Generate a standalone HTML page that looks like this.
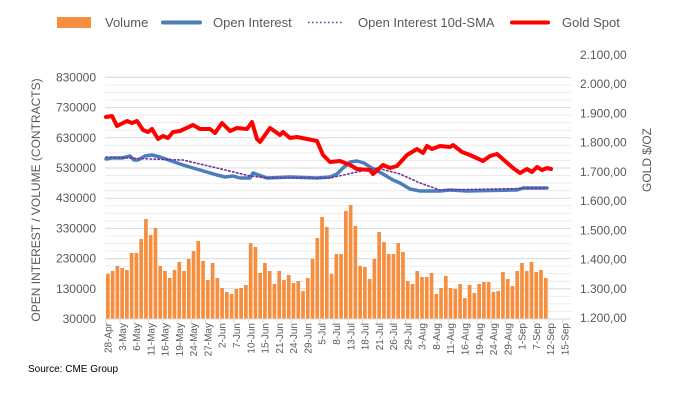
<!DOCTYPE html>
<html><head><meta charset="utf-8"><style>
body{margin:0;background:#fff;}
svg{display:block;font-family:"Liberation Sans",sans-serif;}
</style></head><body>
<svg id="s" width="678" height="400" xmlns="http://www.w3.org/2000/svg">
</svg>
<script>
const s=document.getElementById('s');let h='';
// grid
for(let i=0;i<=32;i++){const y=319-i*7.55;h+=`<line x1="105" x2="571" y1="${y}" y2="${y}" stroke="${i%4==0?'#d9d9d9':'#ececec'}" stroke-width="1"/>`;}
// left labels
for(let i=0;i<=8;i++){const y=319-i*30.2;h+=`<text x="96" y="${y+4}" font-size="12" fill="#595959" text-anchor="end">${30000+i*100000}</text>`;}
// right labels
for(let i=0;i<=9;i++){const y=318-i*29.25;const v=(1200+i*100);h+=`<text x="580" y="${y+4}" font-size="12" fill="#595959">${Math.floor(v/1000)}.${String(v%1000).padStart(3,'0')},00</text>`;}
h+=`<text transform="translate(40,200) rotate(-90)" font-size="12" fill="#595959" text-anchor="middle">OPEN INTEREST / VOLUME (CONTRACTS)</text>`;
h+=`<text transform="translate(651,160) rotate(-90)" font-size="12" fill="#595959" text-anchor="middle">GOLD $/OZ</text>`;
// bars
const b=[274,271,266,268,270,253,253,239,219,235,228,266,271,278,270,262,271,259,251,241,261,280,263,278,288,292,294,289,288,285,243,247,273,263,271,284,271,280,275,283,281,291,278,259,238,217,227,274,254,254,211,205,226,266,267,279,259,232,242,254,254,243,252,281,284,271,277,277,273,294,288,276,288,289,284,298,285,293,284,282,282,292,291,272,279,286,271,263,271,262,272,270,278];
b.forEach((t,i)=>{const x=106+i*4.76;h+=`<rect x="${x}" y="${t}" width="3.7" height="${319-t}" fill="#f58f3f"/>`;});
h+=`<line x1="105" x2="571" y1="319" y2="319" stroke="#d9d9d9"/>`;
// x labels
const L=['28-Apr','3-May','6-May','11-May','16-May','19-May','24-May','27-May','2-Jun','7-Jun','10-Jun','15-Jun','21-Jun','24-Jun','29-Jun','5-Jul','8-Jul','13-Jul','18-Jul','21-Jul','26-Jul','29-Jul','3-Aug','8-Aug','11-Aug','16-Aug','19-Aug','24-Aug','29-Aug','1-Sep','7-Sep','12-Sep','15-Sep'];
L.forEach((t,i)=>{const x=108+i*14.28;h+=`<line x1="${x-2.4}" x2="${x-2.4}" y1="319" y2="323" stroke="#d9d9d9"/><text transform="translate(${x+3.5},323) rotate(-90)" font-size="10" fill="#595959" text-anchor="end">${t}</text>`;});
const pl=(p,c,w,d)=>`<polyline points="${p}" fill="none" stroke="${c}" stroke-width="${w}" stroke-linejoin="round" stroke-linecap="round" ${d||''}/>`;
h+=pl('106,159 112,158 122,158 130,156 134,160 138,160 145,156 152,155 160,157 183,165 200,170 217,175 225,177 233,176 240,178 250,178 253,173 267,178 290,177 317,178 330,177 337,174 343,168 350,162 357,161 364,163 370,167 383,174 393,180 400,183 410,189 420,191 440,191 450,190 467,191 517,190 523,188 547,188','#4a7ebb',3.5);
h+=pl('106,157 150,159 183,160 217,168 250,176 267,178 330,178 357,172 377,168 400,174 420,183 440,190 547,188','#7030a0',1.6,'stroke-dasharray="1.5,2.5"');
h+=pl('106,117 112,116 117,126 127,121 132,123 137,121 143,130 148,132 152,129 158,139 163,136 168,138 173,132 180,131 193,125 200,129 210,129 215,133 222,123 230,131 237,128 247,129 252,122 257,139 260,142 270,128 280,135 283,132 290,138 297,137 307,139 317,141 323,155 330,162 340,161 350,165 357,169 370,170 373,174 383,165 390,168 397,166 407,155 417,149 423,153 427,146 432,149 440,146 450,147 453,145 462,152 470,155 483,161 490,156 497,154 505,161 513,168 520,173 527,169 532,172 537,167 542,170 547,168 551,169','#ff0000',4);
// legend
h+=`<rect x="57" y="17" width="34" height="11" fill="#f58f3f"/><text x="105" y="27" font-size="13" fill="#595959">Volume</text>`;
h+=`<line x1="163" x2="200" y1="22.5" y2="22.5" stroke="#4a7ebb" stroke-width="4" stroke-linecap="round"/><text x="213" y="27" font-size="13" fill="#595959">Open Interest</text>`;
h+=`<line x1="308" x2="343" y1="22.5" y2="22.5" stroke="#7030a0" stroke-width="1.6" stroke-dasharray="1.5,2.5"/><text x="358" y="27" font-size="13" fill="#595959">Open Interest 10d-SMA</text>`;
h+=`<line x1="512" x2="548" y1="22.5" y2="22.5" stroke="#ff0000" stroke-width="4" stroke-linecap="round"/><text x="562" y="27" font-size="13" fill="#595959">Gold Spot</text>`;
h+=`<text x="28" y="372" font-size="10" fill="#000">Source: CME Group</text>`;
s.innerHTML=h;
</script>
</body></html>
